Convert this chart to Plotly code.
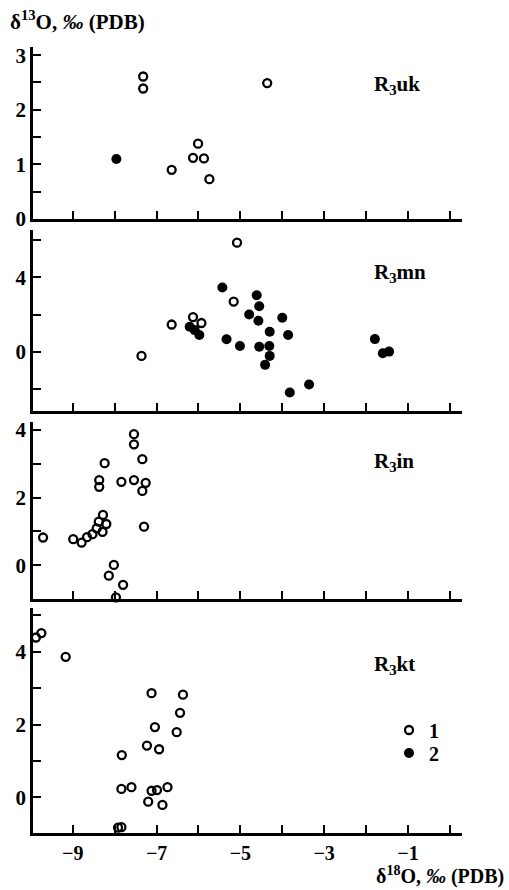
import plotly.graph_objects as go

# ---------------- data ----------------
# panel R3uk
uk_open_x = [-7.32, -7.32, -6.64, -6.01, -6.13, -5.87, -5.74, -4.36]
uk_open_y = [2.61, 2.39, 0.90, 1.38, 1.12, 1.11, 0.73, 2.49]
uk_fill_x = [-7.96]
uk_fill_y = [1.10]

# panel R3mn
mn_open_x = [-5.08, -5.16, -6.13, -5.93, -6.64, -7.36]
mn_open_y = [5.85, 2.70, 1.87, 1.55, 1.47, -0.21]
mn_fill_x = [-5.43, -4.61, -4.55, -4.79, -4.57, -6.21, -6.09, -5.98, -5.33, -5.01,
             -4.55, -4.00, -4.30, -3.86, -4.31, -4.30, -4.41, -3.82, -3.36, -1.79,
             -1.60, -1.45]
mn_fill_y = [3.45, 3.04, 2.45, 2.01, 1.67, 1.35, 1.17, 0.91, 0.68, 0.32,
             0.28, 1.83, 1.08, 0.91, 0.32, -0.21, -0.69, -2.17, -1.74, 0.69,
             -0.07, 0.02]

# panel R3in
in_open_x = [-9.71, -8.99, -8.79, -8.66, -8.53, -8.43, -8.29, -8.38, -8.28, -8.20,
             -8.37, -8.37, -8.24, -7.84, -7.54, -7.54, -7.54, -7.34, -7.26, -7.34,
             -7.30, -8.02, -8.14, -7.80, -7.97]
in_open_y = [0.82, 0.77, 0.67, 0.83, 0.92, 1.09, 0.99, 1.29, 1.49, 1.22,
             2.52, 2.32, 3.02, 2.47, 3.88, 3.58, 2.52, 3.14, 2.44, 2.20,
             1.14, 0.01, -0.31, -0.58, -0.95]

# panel R3kt
kt_open_x = [-9.88, -9.75, -9.17, -7.12, -6.37, -6.44, -7.04, -6.52, -7.23, -6.94,
             -7.83, -7.84, -7.60, -7.12, -6.99, -6.74, -7.20, -6.86, -7.92, -7.84]
kt_open_y = [4.39, 4.51, 3.86, 2.86, 2.82, 2.32, 1.93, 1.79, 1.42, 1.32,
             1.16, 0.23, 0.28, 0.18, 0.20, 0.28, -0.12, -0.21, -0.83, -0.82]

x_tickvals = [-9, -8, -7, -6, -5, -4, -3, -2, -1, 0]
x_ticktext = ["−9", "", "−7", "", "−5", "", "−3", "", "−1", ""]

panel_names = ["R<sub>3</sub>uk", "R<sub>3</sub>mn", "R<sub>3</sub>in", "R<sub>3</sub>kt"]
y_ranges = [[0, 3.15], [-3.16, 6.53], [-1.0, 4.24], [-0.98, 5.2]]
y_tickvals = [[0, 0.5, 1, 1.5, 2, 2.5, 3],
              [-2, 0, 2, 4, 6],
              [0, 1, 2, 3, 4],
              [0, 1, 2, 3, 4, 5]]
y_ticktext = [["0", "", "1", "", "2", "", "3"],
              ["", "0", "", "4", ""],
              ["0", "", "2", "", "4"],
              ["0", "", "2", "", "4", ""]]

# ---------------- layout geometry ----------------
W, H = 509, 890
ml, mr, mt, mb = 33, 47, 47, 57
pw = W - ml - mr
ph = H - mt - mb
def dom(top_px, bot_px):
    return [(H - mb - bot_px) / ph, (H - mb - top_px) / ph]
def px_x(p):
    return (p - ml) / pw
def px_y(p):
    return (H - mb - p) / ph
domains = [dom(47, 219), dom(230, 411), dom(422, 599), dom(608, 833)]
label_y_px = [85, 273, 462, 665]

FONT = "Liberation Serif"
BOLD = dict(family=FONT, size=21, color="black", weight="bold")
XBOLD = dict(family=FONT, size=20, color="black", weight="bold")
LEGF = dict(family=FONT, size=20, color="black", weight="bold")
open_marker = dict(symbol="circle-open", size=8, color="black", line=dict(width=2.3, color="black"))
fill_marker = dict(symbol="circle", size=10, color="black", line=dict(width=0))

fig = go.Figure()

def add(xs, ys, idx, marker, name, show, leg="legend"):
    fig.add_trace(go.Scatter(
        x=xs, y=ys, mode="markers", marker=marker, name=name,
        legendgroup=name, showlegend=show, cliponaxis=False, legend=leg,
        xaxis="x" if idx == 1 else f"x{idx}", yaxis="y" if idx == 1 else f"y{idx}"))

add(uk_open_x, uk_open_y, 1, open_marker, "1", True, "legend")
add(uk_fill_x, uk_fill_y, 1, fill_marker, "2", True, "legend2")
add(mn_open_x, mn_open_y, 2, open_marker, "1", False)
add(mn_fill_x, mn_fill_y, 2, fill_marker, "2", False)
add(in_open_x, in_open_y, 3, open_marker, "1", False)
add(kt_open_x, kt_open_y, 4, open_marker, "1", False)

leg_common = dict(xanchor="left", yanchor="middle", bgcolor="rgba(0,0,0,0)",
                  font=LEGF, itemwidth=30, tracegroupgap=0, borderwidth=0)

layout = dict(
    width=W, height=H,
    margin=dict(l=ml, r=mr, t=mt, b=mb),
    plot_bgcolor="white", paper_bgcolor="white",
    font=dict(family=FONT, size=20, color="black"),
    legend=dict(x=px_x(389), y=px_y(730), **leg_common),
    legend2=dict(x=px_x(389), y=px_y(753), **leg_common),
    annotations=[],
)

for i in range(4):
    n = i + 1
    xk = "xaxis" if n == 1 else f"xaxis{n}"
    yk = "yaxis" if n == 1 else f"yaxis{n}"
    layout[xk] = dict(
        domain=[0, 1], anchor="y" if n == 1 else f"y{n}",
        range=[-9.95, 0.29], tickvals=x_tickvals,
        ticktext=x_ticktext if n == 4 else [""] * len(x_tickvals),
        showticklabels=(n == 4),
        ticks="inside", ticklen=8, tickwidth=2, tickcolor="black",
        showline=True, linewidth=2.5, linecolor="black",
        showgrid=False, zeroline=False,
        tickfont=XBOLD,
    )
    layout[yk] = dict(
        domain=domains[i], anchor="x" if n == 1 else f"x{n}",
        range=y_ranges[i], tickvals=y_tickvals[i], ticktext=y_ticktext[i],
        ticks="inside", ticklen=8, tickwidth=2, tickcolor="black",
        showline=True, linewidth=2.5, linecolor="black",
        showgrid=False, zeroline=False,
        tickfont=BOLD,
    )
    layout["annotations"].append(dict(
        text=f"<b>{panel_names[i]}</b>", xref="paper", yref="paper",
        x=px_x(372), y=px_y(label_y_px[i]),
        xanchor="left", yanchor="middle", showarrow=False,
        font=dict(family=FONT, size=21, color="black")))

layout["annotations"].append(dict(
    text="<b>δ<sup>13</sup>O, <i>‰</i> (PDB)</b>", xref="paper", yref="paper",
    x=px_x(8), y=px_y(20),
    xanchor="left", yanchor="middle", showarrow=False,
    font=dict(family=FONT, size=21, color="black")))
layout["annotations"].append(dict(
    text="<b>δ<sup>18</sup>O, <i>‰</i> (PDB)</b>", xref="paper", yref="paper",
    x=px_x(506), y=px_y(875),
    xanchor="right", yanchor="middle", showarrow=False,
    font=dict(family=FONT, size=20, color="black")))

fig.update_layout(**layout)
fig.write_html("out.html")
